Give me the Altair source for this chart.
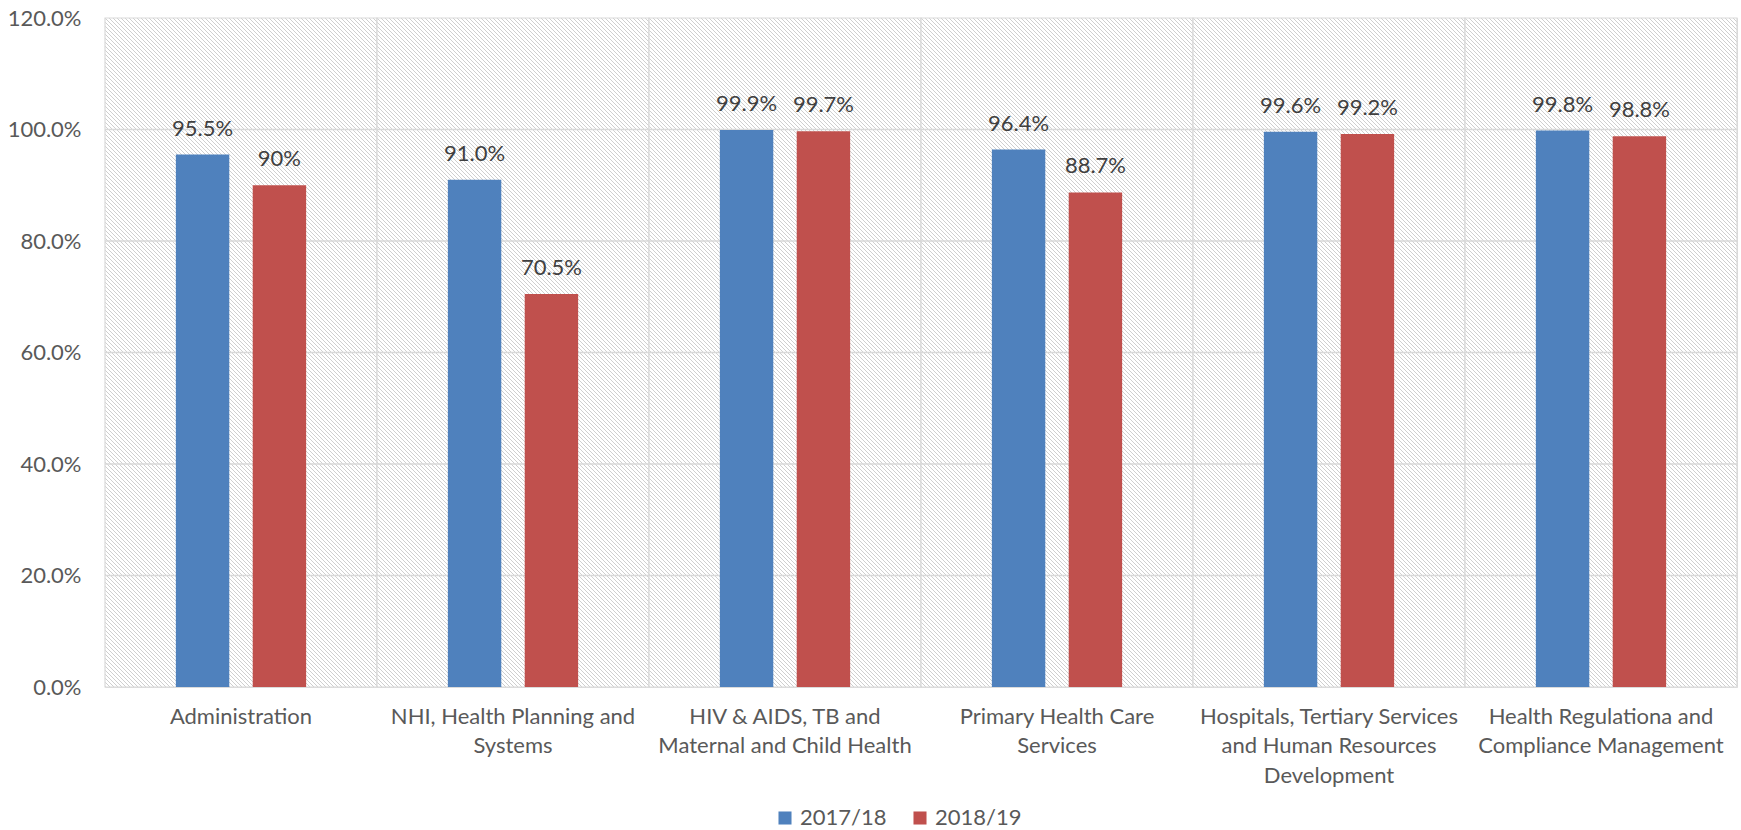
import altair as alt
import pandas as pd

categories = [
    "Administration",
    "NHI, Health Planning and Systems",
    "HIV & AIDS, TB and Maternal and Child Health",
    "Primary Health Care Services",
    "Hospitals, Tertiary Services and Human Resources Development",
    "Health Regulationa and Compliance Management",
]
wrapped = [
    ["Administration"],
    ["NHI, Health Planning and", "Systems"],
    ["HIV & AIDS, TB and", "Maternal and Child Health"],
    ["Primary Health Care", "Services"],
    ["Hospitals, Tertiary Services", "and Human Resources", "Development"],
    ["Health Regulationa and", "Compliance Management"],
]
series = ["2017/18", "2018/19"]
values_1718 = [0.955, 0.910, 0.999, 0.964, 0.996, 0.998]
values_1819 = [0.900, 0.705, 0.997, 0.887, 0.992, 0.988]
labels_1718 = ["95.5%", "91.0%", "99.9%", "96.4%", "99.6%", "99.8%"]
labels_1819 = ["90%", "70.5%", "99.7%", "88.7%", "99.2%", "98.8%"]
grid_ticks = [0.2, 0.4, 0.6, 0.8, 1.0]
colors = ["#4F81BD", "#C0504D"]

rows = []
for i, c in enumerate(categories):
    rows.append({"category": c, "series": series[0], "value": values_1718[i], "label": labels_1718[i]})
    rows.append({"category": c, "series": series[1], "value": values_1819[i], "label": labels_1819[i]})
df = pd.DataFrame(rows)
bg = pd.DataFrame({"category": categories, "lo": 0.0, "hi": 1.2})
grid = pd.DataFrame({"tick": grid_ticks})

W, H = 1632, 669
FONT = "Lato"
TXT = "#595959"

# hatch gradient for each band background (45 degree lines, 4 px horizontal period)
bw, bh = W / 6.0, H
k = (bw + bh) / (bw ** 2 + bh ** 2)
period = 4.0 / (bw + bh)
stops = [{"color": "#ffffff", "offset": 0.0}]
s = 0
while s * period < 1.0:
    a = (s + 0.125) * period
    b = (s + 0.375) * period
    if a >= 1.0:
        break
    b = min(b, 1.0)
    stops += [
        {"color": "#ffffff", "offset": a},
        {"color": "#cfcfcf", "offset": a},
        {"color": "#cfcfcf", "offset": b},
        {"color": "#ffffff", "offset": b},
    ]
    s += 1
stops.append({"color": "#ffffff", "offset": 1.0})
hatch = {"gradient": "linear", "x1": 0, "y1": 1, "x2": bw * k, "y2": 1 - bh * k, "stops": stops}

expr = "''"
for c, w in reversed(list(zip(categories, wrapped))):
    arr = "[" + ",".join("'" + t + "'" for t in w) + "]"
    expr = f"datum.value == '{c}' ? {arr} : ({expr})"

xscale = alt.Scale(domain=categories, paddingInner=0, paddingOuter=0)
yscale = alt.Scale(domain=[0, 1.2])
offscale = alt.Scale(paddingInner=0.305, paddingOuter=0.922)

background = alt.Chart(bg).mark_rect(fill=hatch, stroke="#d9d9d9", strokeWidth=1.2).encode(
    x=alt.X("category:N", scale=xscale, sort=categories,
            axis=alt.Axis(title=None, labelExpr=expr, labelAngle=0, ticks=False, domain=False,
                          labelFont=FONT, labelFontSize=22, labelColor=TXT, labelLineHeight=29.5,
                          labelPadding=19, labelBaseline="top", labelLimit=0)),
    y=alt.Y("lo:Q", scale=yscale,
            axis=alt.Axis(title=None, format=".1%", values=[0, 0.2, 0.4, 0.6, 0.8, 1.0, 1.2],
                          grid=False, ticks=False, domain=False, labelFont=FONT, labelFontSize=22,
                          labelColor=TXT, labelPadding=24)),
    y2="hi:Q",
)

gridlines = alt.Chart(grid).mark_rule(color="#d9d9d9", strokeWidth=1.5).encode(
    y=alt.Y("tick:Q", scale=yscale)
)

bars = alt.Chart(df).mark_bar().encode(
    x=alt.X("category:N", scale=xscale, sort=categories),
    xOffset=alt.XOffset("series:N", sort=series, scale=offscale),
    y=alt.Y("value:Q", scale=yscale),
    color=alt.Color("series:N", sort=series, scale=alt.Scale(domain=series, range=colors),
                    legend=alt.Legend(title=None, orient="none", legendX=669, legendY=789,
                                      direction="horizontal", symbolType="square", symbolSize=170,
                                      symbolStrokeWidth=0, labelFont=FONT, labelFontSize=22,
                                      labelColor=TXT, columnPadding=22, labelOffset=4, padding=0)),
)

texts = alt.Chart(df).mark_text(font=FONT, fontSize=22, color="#404040", baseline="bottom", dy=-14).encode(
    x=alt.X("category:N", scale=xscale, sort=categories),
    xOffset=alt.XOffset("series:N", sort=series, scale=offscale),
    y=alt.Y("value:Q", scale=yscale),
    text="label:N",
)

chart = alt.layer(background, gridlines, bars, texts).properties(
    width=W, height=H,
    autosize=alt.AutoSizeParams(type="none"),
    padding={"left": 105, "top": 18, "right": 4, "bottom": 143},
).configure_view(stroke=None).configure(background="white")

chart.save("out.html", embed_options={"renderer": "svg", "actions": False})
